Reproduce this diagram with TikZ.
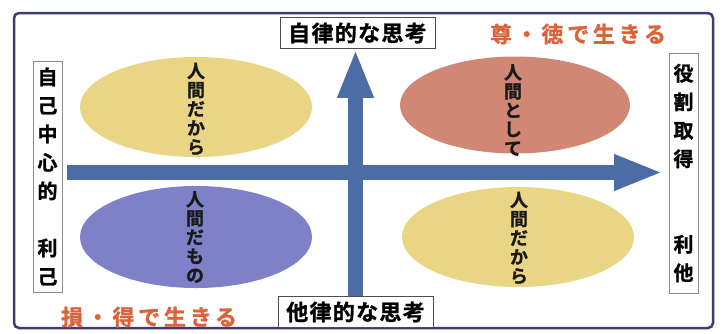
\documentclass[tikz,border=0pt]{standalone}
\usepackage{fontspec}
\setmainfont{Noto Sans CJK JP}[BoldFont={Noto Sans CJK JP Bold}]
\newfontfamily\jpheavy{Noto Sans CJK JP Bold}[FakeBold=1.2]
\usetikzlibrary{arrows.meta,shapes.geometric}
\definecolor{framecol}{RGB}{62,60,112}
\definecolor{arrowcol}{RGB}{76,108,166}
\definecolor{yellowell}{RGB}{233,213,132}
\definecolor{salmonell}{RGB}{208,136,116}
\definecolor{blueell}{RGB}{126,128,200}
\definecolor{redtext}{RGB}{220,98,58}
\tikzset{
  labelbox/.style={draw=black!70, line width=0.8pt, fill=white, inner sep=0pt,
    minimum width=155pt, minimum height=31pt,
    font=\jpheavy\fontsize{22}{24}\selectfont\addfontfeatures{LetterSpace=6}},
  sidebox/.style={draw=black!45, line width=0.8pt, fill=white, inner sep=0pt,
    minimum width=29pt, align=center,
    font=\jpheavy\fontsize{20}{28.5}\selectfont},
  ell/.style={ellipse, inner sep=0pt, minimum width=232pt, minimum height=100pt},
  elltext/.style={align=center, inner sep=0pt, text=black!90,
    font=\jpheavy\fontsize{18}{19}\selectfont},
  motto/.style={text=redtext, inner sep=0pt,
    font=\jpheavy\fontsize{22}{24}\selectfont\addfontfeatures{LetterSpace=17}},
  bigarrow/.style={draw=arrowcol, line width=15pt,
    -{Triangle[width=33pt,length=49pt]}}
}
\begin{document}
\begin{tikzpicture}[x=1pt,y=-1pt]
\useasboundingbox (0,0) rectangle (725,333);
\fill[white] (0,0) rectangle (725,333);
% outer frame
\draw[framecol, line width=2.5pt, rounded corners=5pt] (14,13) rectangle (713,328);
% ellipses
\node[ell, fill=yellowell] (e1) at (196,107) {};
\node[ell, fill=salmonell, minimum width=230pt, minimum height=97pt] (e2) at (515,105) {};
\node[ell, fill=blueell, minimum height=102pt] (e3) at (196,237) {};
\node[ell, fill=yellowell] (e4) at (518,237) {};
\node[elltext] (t1) at (196,109) {人\\間\\だ\\か\\ら};
\node[elltext] (t2) at (513,110) {人\\間\\と\\し\\て};
\node[elltext] (t3) at (195,237) {人\\間\\だ\\も\\の};
\node[elltext] (t4) at (519,238) {人\\間\\だ\\か\\ら};
% side boxes
\node[sidebox, minimum height=231pt] (left) at (47.5,176.5) {自\\己\\中\\心\\的\\[28.5pt]利\\己};
\node[sidebox, minimum height=240pt] (right) at (683.5,173) {役\\割\\取\\得\\[57pt]利\\他};
% axis labels
\node[labelbox] (top) at (357.5,33) {自律的な思考};
\node[labelbox] (bot) at (355.5,312) {他律的な思考};
% arrows
\coordinate (hs) at (67,172.5);
\coordinate (he) at (663,172.5);
\draw[bigarrow] (bot.north) -- (bot.north |- top.south);
\draw[bigarrow] (hs) -- (he);
% mottos
\node[motto] (m1) at (578,34) {尊・徳で生きる};
\node[motto] (m2) at (149,317) {損・得で生きる};
\end{tikzpicture}
\end{document}
